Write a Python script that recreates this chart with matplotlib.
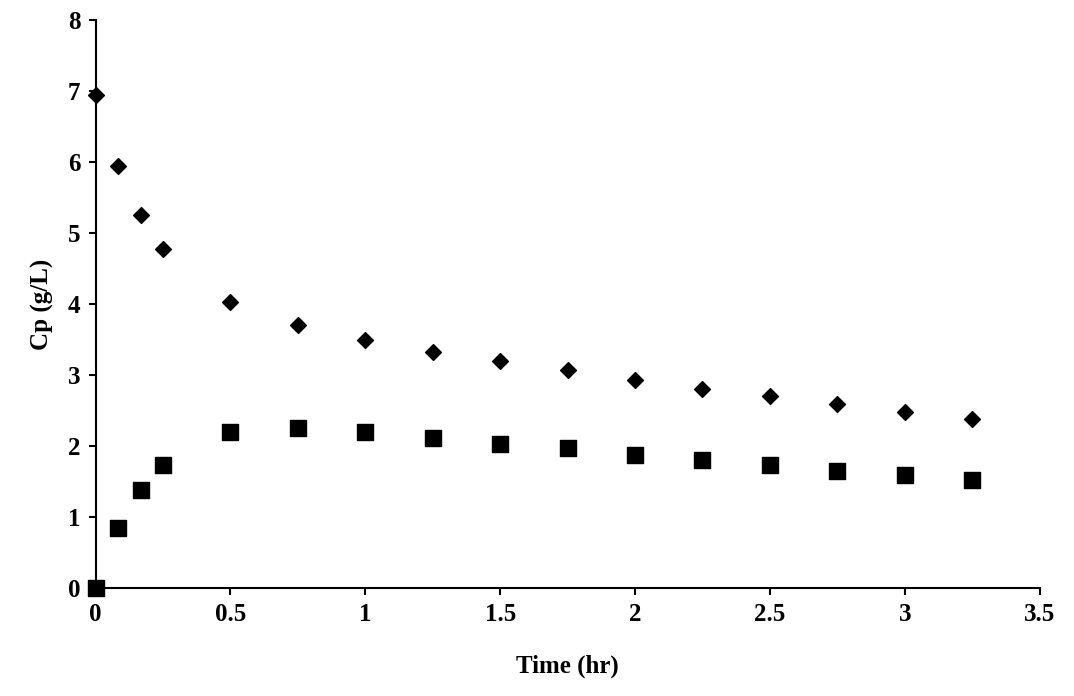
import matplotlib
matplotlib.use('Agg')
import matplotlib.pyplot as plt

time_hr = [0, 0.083, 0.167, 0.25, 0.5, 0.75, 1.0, 1.25, 1.5, 1.75, 2.0,
           2.25, 2.5, 2.75, 3.0, 3.25]
cp_diamond = [6.95, 5.95, 5.25, 4.78, 4.03, 3.70, 3.50, 3.33, 3.20, 3.07,
              2.93, 2.80, 2.70, 2.60, 2.48, 2.38]
cp_square = [0.0, 0.85, 1.38, 1.73, 2.20, 2.25, 2.20, 2.12, 2.03, 1.97,
             1.88, 1.80, 1.73, 1.65, 1.60, 1.53]

plt.rcParams['font.family'] = ['Liberation Serif', 'DejaVu Serif']
plt.rcParams['font.weight'] = 'bold'

fig = plt.figure(figsize=(10.74, 6.96), dpi=100)
ax = fig.add_axes([0.089, 0.155, 0.879, 0.816])

ax.scatter(time_hr, cp_diamond, marker='D', s=65, c='black', clip_on=False, zorder=3)
ax.scatter(time_hr, cp_square, marker='s', s=130, c='black', clip_on=False, zorder=3)

ax.set_xlim(0, 3.5)
ax.set_ylim(0, 8)
ax.set_xticks([0, 0.5, 1, 1.5, 2, 2.5, 3, 3.5])
ax.set_xticklabels(['0', '0.5', '1', '1.5', '2', '2.5', '3', '3.5'])
ax.set_yticks(range(9))
ax.spines['top'].set_visible(False)
ax.spines['right'].set_visible(False)
for s in ('left', 'bottom'):
    ax.spines[s].set_linewidth(1.5)
ax.tick_params(direction='out', length=5, width=1.5, labelsize=18, pad=6)

ax.set_xlabel('Time (hr)', fontsize=18, fontweight='bold', labelpad=20)
ax.set_ylabel('Cp (g/L)', fontsize=18, fontweight='bold', labelpad=10)

fig.savefig('out.png', dpi=100)
